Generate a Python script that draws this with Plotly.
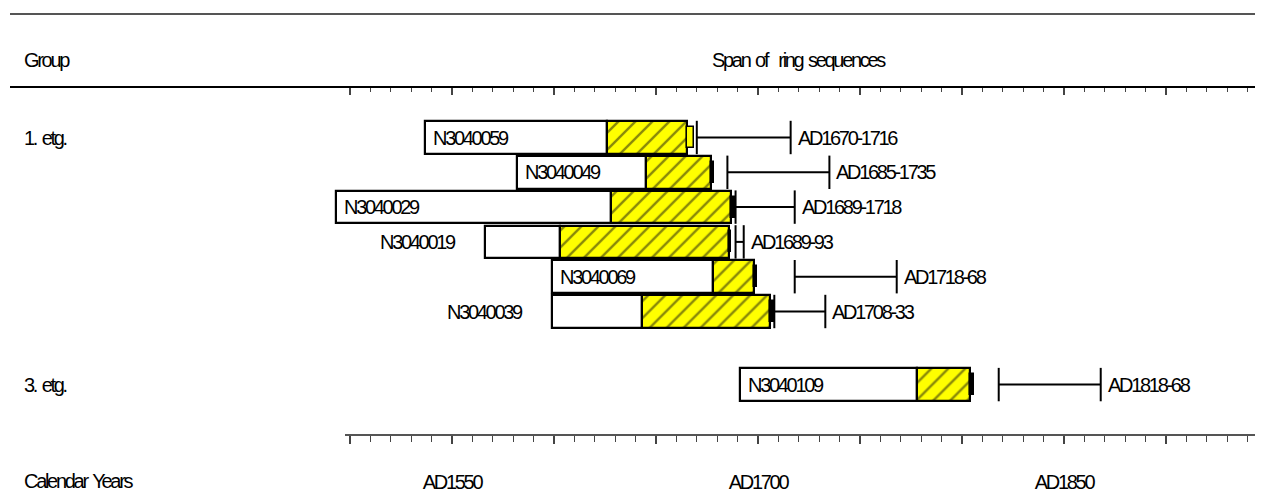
import plotly.graph_objects as go

# ---------------- data ----------------
groups = ["1. etg.", "3. etg."]
sample_group = [0, 0, 0, 0, 0, 0, 1]
samples = ["N3040059", "N3040049", "N3040029", "N3040019", "N3040069", "N3040039", "N3040109"]
first_ring = [1537, 1582, 1493, 1566, 1599, 1599, 1691]
sapwood_start = [1626, 1645, 1628, 1603, 1678, 1643, 1778]
last_ring = [1665, 1677, 1687, 1686, 1698, 1706, 1804]
end_mark = [1668.5, 1678.5, 1689, 1687, 1699.5, 1708, 1806]
end_mark_kind = ["sapwood", "bark", "bark", "bark", "bark", "bark", "bark"]
felling_from = [1670, 1685, 1689, 1689, 1718, 1708, 1818]
felling_to = [1716, 1735, 1718, 1693, 1768, 1733, 1868]
felling_labels = ["AD1670-1716", "AD1685-1735", "AD1689-1718", "AD1689-93",
                  "AD1718-68", "AD1708-33", "AD1818-68"]
label_outside = [False, False, False, True, False, True, False]

major_years = list(range(1500, 1901, 50))
minor_years = [y for y in range(1500, 1941, 10) if y % 50]
labelled_years = {1550: "AD1550", 1700: "AD1700", 1850: "AD1850"}

# ---------------- layout constants ----------------
# page body has an 8px margin: figure pixel = window pixel - 8
OFF = 8
W, H = 1263 - OFF, 502 - OFF
PX_PER_YEAR = 2.04
X0_PX = 350 - OFF            # pixel position of AD1500
ROW_PX = 34.8
TOP_PX, BOT_PX = 87 - OFF, 435 - OFF
FIRST_ROW_PX = 137.5 - OFF
GROUP_GAP = 1.1

xr = [1500 - X0_PX / PX_PER_YEAR, 1500 + (W - X0_PX) / PX_PER_YEAR]
yr = [(BOT_PX - FIRST_ROW_PX) / ROW_PX, -(FIRST_ROW_PX - TOP_PX) / ROW_PX]

pos = [i + GROUP_GAP * g for i, g in enumerate(sample_group)]

FONT = "Liberation Sans, Arial, sans-serif"
FS = 20
BAR_W = 0.935
MARK_W = 0.6


def tight(s, sep=" "):
    words = s.split(" ")
    return sep.join('<span style="letter-spacing:-2.3px">' + w + '</span>' for w in words)


fig = go.Figure()

# heartwood (white part)
fig.add_trace(go.Bar(
    orientation="h", y=pos, base=first_ring,
    x=[s - f for s, f in zip(sapwood_start, first_ring)],
    width=BAR_W, marker=dict(color="white", line=dict(color="black", width=2.2)),
    showlegend=False, hoverinfo="skip"))

# sapwood (yellow hatched part)
fig.add_trace(go.Bar(
    orientation="h", y=pos, base=sapwood_start,
    x=[l - s for l, s in zip(last_ring, sapwood_start)],
    width=BAR_W,
    marker=dict(color="#FFFF00", line=dict(color="black", width=2.2),
                pattern=dict(shape="/", fgcolor="#111111", bgcolor="#FFFF00",
                             size=12, solidity=0.2)),
    showlegend=False, hoverinfo="skip"))

# end markers
fig.add_trace(go.Bar(
    orientation="h", y=pos, base=last_ring,
    x=[e - l for e, l in zip(end_mark, last_ring)],
    width=MARK_W,
    marker=dict(color=["#FFFF00" if k == "sapwood" else "black" for k in end_mark_kind],
                line=dict(color="black", width=1.5)),
    showlegend=False, hoverinfo="skip"))

# felling date ranges
lx, ly = [], []
half = 0.48
for a, b, p in zip(felling_from, felling_to, pos):
    lx += [a, b, None, a, a, None, b, b, None]
    ly += [p, p, None, p - half, p + half, None, p - half, p + half, None]
fig.add_trace(go.Scatter(x=lx, y=ly, mode="lines", line=dict(color="black", width=2),
                         showlegend=False, hoverinfo="skip"))

# invisible trace so the top axis is drawn
fig.add_trace(go.Scatter(x=[major_years[0]], y=[pos[0]], xaxis="x2", mode="markers",
                         marker=dict(opacity=0), showlegend=False, hoverinfo="skip"))

ann = []
tf = dict(family=FONT, size=FS, color="black")
for name, f, p, out in zip(samples, first_ring, pos, label_outside):
    if out:
        ann.append(dict(x=f, y=p, xref="x", yref="y", text=tight(name), showarrow=False,
                        xanchor="right", xshift=-27, font=tf))
    else:
        ann.append(dict(x=f, y=p, xref="x", yref="y", text=tight(name), showarrow=False,
                        xanchor="left", xshift=6, font=tf))
for lab, b, p in zip(felling_labels, felling_to, pos):
    ann.append(dict(x=b, y=p, xref="x", yref="y", text=tight(lab), showarrow=False,
                    xanchor="left", xshift=5, font=tf))
for gi, g in enumerate(groups):
    p = pos[sample_group.index(gi)]
    ann.append(dict(x=(22 - OFF) / W, y=p, xref="paper", yref="y", text=tight(g),
                    showarrow=False, xanchor="left", font=tf))


def ypaper(px_ref):
    return (BOT_PX - (px_ref - OFF)) / (BOT_PX - TOP_PX)


def xpaper(px_ref):
    return (px_ref - OFF) / W


ann.append(dict(x=xpaper(22), y=ypaper(60), xref="paper", yref="paper", text=tight("Group"),
                showarrow=False, xanchor="left", yanchor="middle", font=tf))
ann.append(dict(x=(major_years[0] + minor_years[-1]) / 2, y=ypaper(60), xref="x", yref="paper",
                text=tight("Span of") + " &nbsp;" + tight("ring sequences"), showarrow=False,
                xanchor="center", yanchor="middle", font=tf))
ann.append(dict(x=xpaper(22), y=ypaper(481), xref="paper", yref="paper",
                text=tight("Calendar Years"),
                showarrow=False, xanchor="left", yanchor="middle", font=tf))

shapes = [
    dict(type="line", xref="paper", yref="paper", x0=xpaper(10), x1=1, y0=ypaper(14), y1=ypaper(14),
         line=dict(color="#555555", width=2)),
    dict(type="line", xref="paper", yref="paper", x0=xpaper(10), x1=1, y0=ypaper(87), y1=ypaper(87),
         line=dict(color="black", width=2)),
    dict(type="line", xref="paper", yref="paper", x0=xpaper(345), x1=1, y0=ypaper(435), y1=ypaper(435),
         line=dict(color="#555555", width=2)),
]

fig.update_layout(
    width=W, height=H,
    margin=dict(l=0, r=0, t=TOP_PX, b=H - BOT_PX, pad=0),
    paper_bgcolor="white", plot_bgcolor="white",
    barmode="overlay", bargap=0,
    font=dict(family=FONT, size=FS, color="black"),
    annotations=ann, shapes=shapes,
    xaxis=dict(range=xr, showgrid=False, zeroline=False, showline=False,
               tickmode="array", tickvals=major_years,
               ticktext=[tight(labelled_years[y]) if y in labelled_years else "" for y in major_years],
               ticks="outside", ticklen=8, tickwidth=1.5, tickcolor="#444444",
               ticklabelstandoff=21, tickfont=tf,
               minor=dict(tickmode="array", tickvals=minor_years, ticks="outside",
                          ticklen=6, tickwidth=1.2, tickcolor="#444444", showgrid=False)),
    xaxis2=dict(range=xr, overlaying="x", side="top", anchor="y", showgrid=False,
                zeroline=False, showline=False, showticklabels=False,
                tickmode="array", tickvals=major_years,
                ticks="inside", ticklen=8, tickwidth=1.5, tickcolor="#444444",
                minor=dict(tickmode="array", tickvals=minor_years, ticks="inside",
                           ticklen=5, tickwidth=1.2, tickcolor="#444444", showgrid=False)),
    yaxis=dict(range=yr, visible=False, showgrid=False, zeroline=False),
)

fig.write_html("out.html")
